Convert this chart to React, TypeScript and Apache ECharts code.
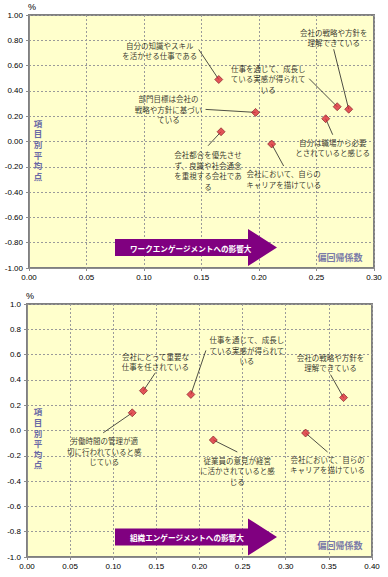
import React, { useEffect, useRef } from 'react';
import * as echarts from 'echarts';

// ---- data: upper chart (ワークエンゲージメント) ----
const topNames = [
  '自分の知識やスキル\nを活かせる仕事である',
  '部門目標は会社の\n戦略や方針に基づい\nている',
  '仕事を通じて、成長し\nている実感が得られて\nいる',
  '会社の戦略や方針を\n理解できている',
  '自分は職場から必要\nとされていると感じる',
  '会社都合を優先させ\nず、良識や社会通念\nを重視する会社であ\nる',
  '会社において、自らの\nキャリアを描けている',
];
const topCoef = [0.165, 0.197, 0.268, 0.278, 0.258, 0.167, 0.211];
const topMean = [0.49, 0.23, 0.275, 0.255, 0.18, 0.077, -0.02];

// ---- data: lower chart (組織エンゲージメント) ----
const bottomNames = [
  '会社にとって重要な\n仕事を任されている',
  '労働時間の管理が適\n切に行われていると感\nじている',
  '仕事を通じて、成長し\nている実感が得られて\nいる',
  '会社の戦略や方針を\n理解できている',
  '従業員の意見が経営\nに活かされていると感\nじる',
  '会社において、自らの\nキャリアを描けている',
];
const bottomCoef = [0.135, 0.122, 0.19, 0.367, 0.216, 0.323];
const bottomMean = [0.315, 0.14, 0.285, 0.26, -0.075, -0.02];

const topXMax = 0.3;
const bottomXMax = 0.4;
const xStep = 0.05;
const yMin = -1;
const yMax = 1;
const yStep = 0.2;

const topArrowText = 'ワークエンゲージメントへの影響大';
const bottomArrowText = '組織エンゲージメントへの影響大';
const xAxisTitle = '偏回帰係数';
const yAxisTitle = '項目別平均点';
const unitLabel = '%';

// ---- layout: pixel offsets of callout label centres / leader-line ends from their points ----
const topLabelOffsets = [
  [-59, -29], [-87, -3], [-69, -28], [-15, -71.5], [7, 29], [-13, 38.5], [12, 35],
];
const topLeaderEnds = [
  [-20, -30], [-50, -3], [-28, -28], [-15, -60], [7, 16], [-13, 14], [12, 22],
];
const bottomLabelOffsets = [
  [12, -29], [-28, 38.5], [56, -44], [-13, -35], [24, 31], [22, 31.5],
];
const bottomLeaderEnds = [
  [12, -18], [-29, 20], [15, -44], [-13, -23], [24, 12], [22, 19],
];

const CJK = '"Noto Sans CJK JP", "Noto Sans", sans-serif';
const NUM = '"Liberation Sans", Arial, sans-serif';

export default function App() {
  const ref = useRef<HTMLDivElement>(null);
  useEffect(() => {
    if (!ref.current) return;
    const chart = echarts.init(ref.current, null, { renderer: 'svg' });

    const grids = [
      { left: 29, right: 14, top: 15, height: 253 },
      { left: 27, right: 16, top: 304, height: 253 },
    ];

    const mkX = (idx: number, max: number) => ({
      type: 'value',
      gridIndex: idx,
      min: 0,
      max,
      interval: xStep,
      axisLine: { show: true, onZero: false, lineStyle: { color: '#8c8c8c', width: 1 } },
      axisTick: { show: true, length: 3, lineStyle: { color: '#8c8c8c' } },
      axisLabel: {
        formatter: (v: number) => v.toFixed(2),
        fontSize: 8,
        fontFamily: NUM,
        color: '#000',
        margin: 5,
      },
      splitLine: { show: true, lineStyle: { color: '#9a9a9a', type: [2, 2], width: 1 } },
    });
    const mkY = (idx: number, digits: number) => ({
      type: 'value',
      gridIndex: idx,
      min: yMin,
      max: yMax,
      interval: yStep,
      name: unitLabel,
      nameLocation: 'end',
      nameGap: 2,
      nameTextStyle: { fontSize: 9, fontFamily: NUM, color: '#000', align: 'left', padding: [0, 0, 0, -1] },
      axisLine: { show: true, onZero: false, lineStyle: { color: '#8c8c8c', width: 1 } },
      axisTick: { show: true, length: 3, lineStyle: { color: '#8c8c8c' } },
      axisLabel: {
        formatter: (v: number) => (Math.abs(v) < 1e-9 ? 0 : v).toFixed(digits),
        fontSize: 8,
        fontFamily: NUM,
        color: '#000',
        margin: 6,
      },
      splitLine: { show: true, lineStyle: { color: '#9a9a9a', type: [2, 2], width: 1 } },
    });

    const mkSeries = (idx: number, names: string[], xs: number[], ys: number[], offsets: number[][]) => ({
      type: 'scatter',
      xAxisIndex: idx,
      yAxisIndex: idx,
      symbol: 'diamond',
      symbolSize: 8,
      itemStyle: { color: '#dc2b3b', borderColor: '#7a1520', borderWidth: 0.8 },
      data: names.map((n, i) => ({ name: n, value: [xs[i], ys[i]] })),
      label: {
        show: true,
        position: 'inside',
        formatter: (p: any) => p.name,
        fontFamily: CJK,
        fontSize: 7.5,
        lineHeight: 10.5,
        color: '#000',
        align: 'center',
        verticalAlign: 'middle',
      },
      labelLayout: (p: any) => ({ dx: offsets[p.dataIndex][0], dy: offsets[p.dataIndex][1] }),
      z: 3,
    });

    const arrow = (yc: number, text: string) => [
      {
        type: 'polygon',
        shape: {
          points: [
            [115, yc - 8.5], [248, yc - 8.5], [248, yc - 18.5], [277, yc],
            [248, yc + 18.5], [248, yc + 8.5], [115, yc + 8.5],
          ],
        },
        style: { fill: '#800080' },
        z: 10,
      },
      {
        type: 'text',
        x: 130,
        y: yc + 0.5,
        style: {
          text,
          fill: '#fff',
          font: `bold 7.6px ${CJK}`,
          textAlign: 'left',
          textVerticalAlign: 'middle',
        },
        z: 11,
      },
    ];
    const axisTitles = (yTop: number, xTitleY: number) => [
      {
        type: 'text',
        x: 38,
        y: yTop,
        style: {
          text: yAxisTitle.split('').join('\n'),
          fill: '#6a6aa6',
          font: `bold 8.5px ${CJK}`,
          lineHeight: 10.6,
          textAlign: 'center',
          textVerticalAlign: 'top',
        },
        z: 10,
      },
      {
        type: 'text',
        x: 340,
        y: xTitleY,
        style: {
          text: xAxisTitle,
          fill: '#7a7aa8',
          font: `bold 9px ${CJK}`,
          textAlign: 'center',
          textVerticalAlign: 'middle',
        },
        z: 10,
      },
    ];

    chart.setOption({
      animation: false,
      grid: grids.map((g) => ({
        ...g,
        show: true,
        backgroundColor: '#ffffcc',
        borderColor: '#808080',
        borderWidth: 2,
      })),
      xAxis: [mkX(0, topXMax), mkX(1, bottomXMax)],
      yAxis: [mkY(0, 2), mkY(1, 1)],
      series: [
        mkSeries(0, topNames, topCoef, topMean, topLabelOffsets),
        mkSeries(1, bottomNames, bottomCoef, bottomMean, bottomLabelOffsets),
      ],
    });

    // leader lines from each point (through the chart's own scales) to its callout
    const leaders = (gridIndex: number, xs: number[], ys: number[], ends: number[][]) =>
      xs.map((x, i) => {
        const p = chart.convertToPixel({ gridIndex } as any, [x, ys[i]]) as number[];
        return {
          type: 'line',
          shape: { x1: p[0], y1: p[1], x2: p[0] + ends[i][0], y2: p[1] + ends[i][1] },
          style: { stroke: '#222', lineWidth: 0.8 },
          z: 1,
        };
      });

    chart.setOption({
      graphic: [
        ...leaders(0, topCoef, topMean, topLeaderEnds),
        ...leaders(1, bottomCoef, bottomMean, bottomLeaderEnds),
        ...arrow(247.5, topArrowText),
        ...arrow(537, bottomArrowText),
        ...axisTitles(117.5, 257),
        ...axisTitles(406, 545),
      ],
    });
    return () => chart.dispose();
  }, []);
  return (
    <div
      ref={ref}
      style={{ position: 'fixed', left: 0, top: 0, width: 388, height: 577, background: '#fff' }}
    />
  );
}
